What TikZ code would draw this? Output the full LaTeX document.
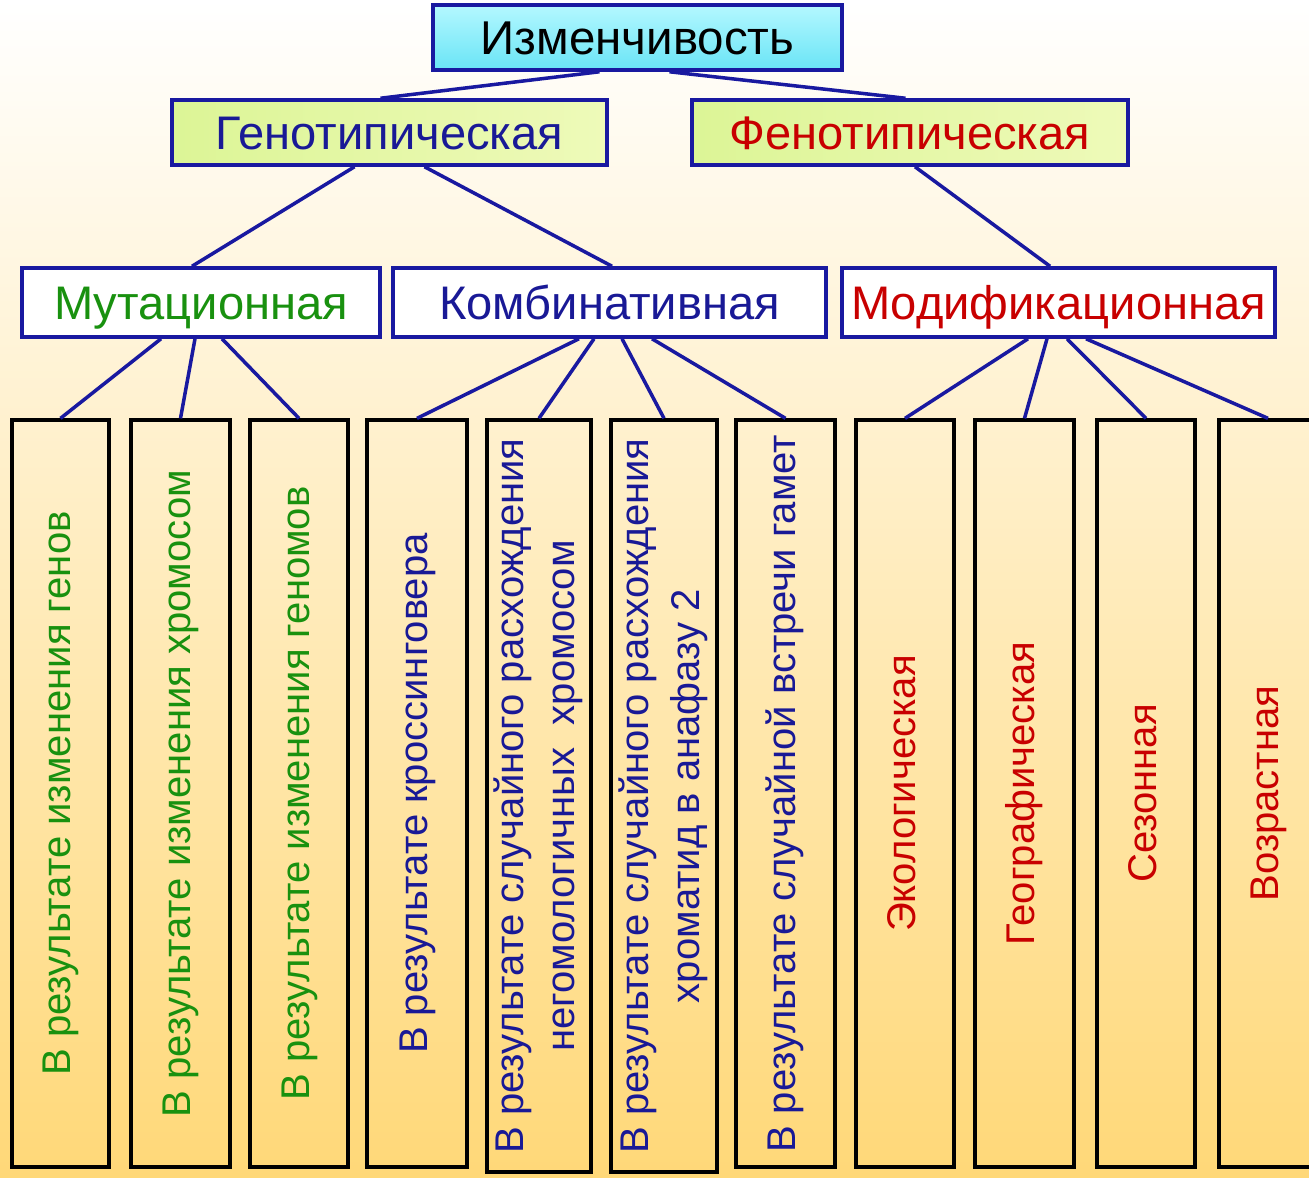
\documentclass[tikz,border=0pt]{standalone}
\usepackage{graphicx}
\usepackage{fontspec}
\setmainfont{Liberation Sans}

\definecolor{linkblue}{RGB}{25,25,160}
\definecolor{txtgreen}{RGB}{25,145,15}
\definecolor{txtblue}{RGB}{25,25,150}
\definecolor{txtred}{RGB}{200,0,0}
\definecolor{bgbottom}{RGB}{255,216,120}

\newcommand{\vtext}[1]{\rotatebox{90}{\begin{tabular}{@{}c@{}}#1\end{tabular}}}

\begin{document}
\begin{tikzpicture}[thick]

\tikzstyle{head} = [
    rectangle, draw=linkblue, line width=2pt, inner sep=0pt, minimum width=8.7cm, minimum height=1.3cm,
    text height=19pt, text depth=0pt, font=\fontsize{26.8}{32}\selectfont]
\tikzstyle{kind} = [head, fill=white, minimum height=1.38cm]
\tikzstyle{leaf} = [
    rectangle, draw=black, line width=1.9pt, inner sep=0pt, minimum width=1.96cm, minimum height=14.94cm,
    font=\fontsize{22.8}{29}\selectfont]
\tikzstyle{link} = [draw=linkblue, line width=2pt]

% background
\useasboundingbox (0,0) rectangle (26.18,-23.54);
\clip (0,0) rectangle (26.18,-23.54);
\shade[top color=white, bottom color=bgbottom] (0,0) rectangle (26.18,-23.54);

\node[head, minimum width=8.18cm, top color={rgb,255:red,180;green,248;blue,255}, bottom color={rgb,255:red,105;green,228;blue,246}, font=\fontsize{27}{32}\selectfont] at (12.75,-0.75) (izm) {Изменчивость};

\node[head, left color={rgb,255:red,220;green,245;blue,150}, right color={rgb,255:red,238;green,250;blue,185}, text=txtblue] at (7.79,-2.65) (gen) {Генотипическая};

\node[head, minimum width=8.72cm, left color={rgb,255:red,220;green,245;blue,150}, right color={rgb,255:red,238;green,250;blue,185}, text=txtred] at (18.2,-2.65) (fen) {Фенотипическая};

\node[kind, minimum width=7.16cm, text=txtgreen] at (4.02,-6.05) (mut) {Мутационная};
\node[kind, minimum width=8.66cm, text=txtblue] at (12.19,-6.05) (komb) {Комбинативная};
\node[kind, minimum width=8.66cm, text=txtred] at (21.17,-6.05) (mod) {Модификационная};

\node[leaf, minimum width=1.94cm, text=txtgreen] at (1.21,-15.87) (genes) {\vtext{В результате изменения генов}};
\node[leaf, minimum width=1.98cm, text=txtgreen] at (3.61,-15.87) (chrom) {\vtext{В результате изменения хромосом}};
\node[leaf, text=txtgreen] at (5.98,-15.87) (genom) {\vtext{В результате изменения геномов}};

\node[leaf, minimum width=2.0cm, text=txtblue] at (8.34,-15.87) (cross) {\vtext{В результате кроссинговера}};
\node[leaf, minimum width=2.08cm, minimum height=15.04cm, text=txtblue] at (10.78,-15.92) (divchr) {\vtext{В результате случайного расхождения\\негомологичных\ \ хромосом}};
\node[leaf, minimum width=2.12cm, minimum height=15.04cm, text=txtblue] at (13.28,-15.92) (divchd) {\vtext{В результате случайного расхождения\\хроматид в анафазу 2}};
\node[leaf, minimum width=1.98cm, text=txtblue] at (15.71,-15.87) (gamet) {\vtext{В результате случайной встречи гамет}};

\node[leaf, text=txtred] at (18.10,-15.87) (eco) {\vtext{Экологическая}};
\node[leaf, minimum width=1.98cm, text=txtred] at (20.49,-15.87) (geo) {\vtext{Географическая}};
\node[leaf, text=txtred] at (22.92,-15.87) (season) {\vtext{Сезонная}};
\node[leaf, text=txtred] at (25.36,-15.87) (age) {\vtext{Возрастная}};


\path[link]
  ([xshift=-0.76cm]izm.south) edge ([xshift=-0.18cm]gen.north)
  ([xshift=0.64cm]izm.south) edge ([xshift=-0.09cm]fen.north)
  ([xshift=-0.7cm]gen.south) edge ([xshift=-0.18cm]mut.north)
  ([xshift=0.7cm]gen.south) edge ([xshift=0.05cm]komb.north)
  ([xshift=0.1cm]fen.south) edge ([xshift=-0.17cm]mod.north)
;

\path[link]
  ([xshift=-0.8cm]mut.south) edge (genes.north)
  ([xshift=-0.12cm]mut.south) edge (chrom.north)
  ([xshift=0.42cm]mut.south) edge (genom.north)
  ([xshift=-0.61cm]komb.south) edge (cross.north)
  ([xshift=-0.31cm]komb.south) edge (divchr.north)
  ([xshift=0.25cm]komb.south) edge (divchd.north)
  ([xshift=0.85cm]komb.south) edge (gamet.north)
  ([xshift=-0.61cm]mod.south) edge (eco.north)
  ([xshift=-0.23cm]mod.south) edge (geo.north)
  ([xshift=0.17cm]mod.south) edge (season.north)
  ([xshift=0.55cm]mod.south) edge (age.north)
;

\end{tikzpicture}
\end{document}
